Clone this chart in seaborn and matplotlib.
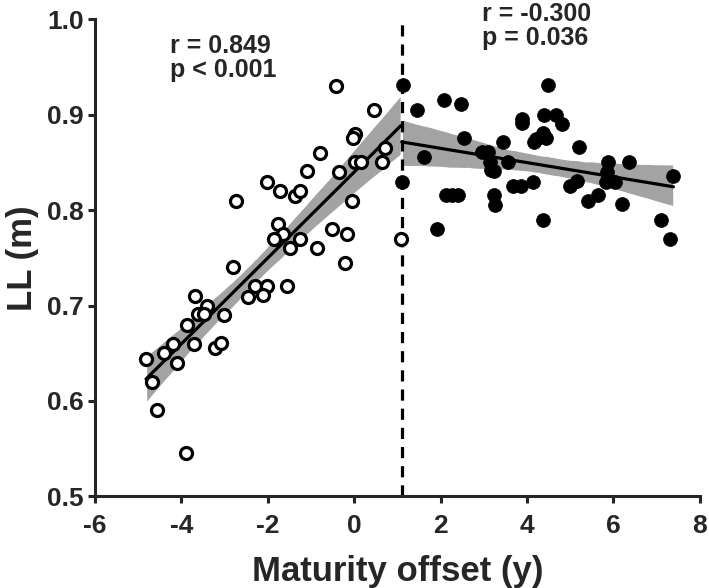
import numpy as np
import pandas as pd
import matplotlib
matplotlib.use("Agg")
import matplotlib.pyplot as plt
import seaborn as sns

# pre-PHV group (open circles)
pre_x = [-0.43, 0.46, 0.02, -0.02, 0.71, 0.65, -0.79, 0.02, 0.15, -0.36,
         -1.10, -2.03, -1.72, -1.36, -1.25, -2.74, -0.05, -1.76, -1.64, -1.85,
         -1.25, -1.49, -0.51, -0.16, -0.85, -0.21, -2.80, -2.30, -2.03, -1.55,
         -2.45, -2.10, -3.69, -3.40, -3.61, -3.48, -3.01, -3.86, -4.20, -3.71,
         -4.40, -3.22, -3.09, -4.82, -4.10, -4.67, -4.57, -3.90, 1.08]
pre_ll = [0.930, 0.905, 0.880, 0.876, 0.865, 0.850, 0.860, 0.850, 0.850, 0.840,
          0.841, 0.830, 0.820, 0.815, 0.820, 0.810, 0.810, 0.786, 0.775, 0.770,
          0.770, 0.760, 0.780, 0.775, 0.760, 0.745, 0.740, 0.720, 0.720, 0.720,
          0.709, 0.711, 0.710, 0.700, 0.691, 0.691, 0.690, 0.680, 0.660, 0.660,
          0.650, 0.655, 0.661, 0.644, 0.640, 0.620, 0.590, 0.545, 0.770]

# post-PHV group (filled circles)
post_x = [1.14, 1.46, 2.08, 2.47, 1.62, 2.55, 1.10, 2.13, 2.26, 2.41,
          1.91, 2.97, 3.10, 3.14, 3.16, 3.24, 3.24, 3.27, 3.45, 3.57,
          3.67, 3.85, 3.89, 3.89, 4.15, 4.16, 4.22, 4.38, 4.44, 4.49,
          4.39, 4.67, 4.80, 4.38, 5.20, 4.99, 5.16, 5.42, 5.65, 5.88,
          5.86, 5.88, 5.84, 6.04, 6.36, 6.21, 7.10, 7.39, 7.31]
post_ll = [0.931, 0.905, 0.916, 0.911, 0.856, 0.876, 0.830, 0.8155, 0.8155, 0.8155,
           0.780, 0.861, 0.861, 0.851, 0.842, 0.841, 0.8155, 0.805, 0.871, 0.850,
           0.825, 0.825, 0.896, 0.891, 0.830, 0.871, 0.875, 0.881, 0.876, 0.931,
           0.900, 0.900, 0.890, 0.790, 0.866, 0.825, 0.831, 0.810, 0.8155, 0.851,
           0.840, 0.833, 0.830, 0.830, 0.850, 0.806, 0.790, 0.836, 0.770]

phv_line = 1.1
pre_text = "r = 0.849\np < 0.001"
post_text = "r = -0.300\np = 0.036"

pre = pd.DataFrame({"offset": pre_x, "LL": pre_ll})
post = pd.DataFrame({"offset": post_x, "LL": post_ll})

sns.set_style("ticks")
plt.rcParams['font.family'] = ['Liberation Sans', 'DejaVu Sans']
plt.rcParams['font.weight'] = 'bold'
plt.rcParams['axes.unicode_minus'] = False

fig = plt.figure(figsize=(7.09, 5.88), dpi=100)
ax = fig.add_axes([0.134, 0.156, 0.853, 0.811])

# regression lines + 95% CI bands
for d in (pre, post):
    n_before = len(ax.collections)
    sns.regplot(data=d, x="offset", y="LL", ax=ax, scatter=False, ci=95,
                color="black", line_kws={"linewidth": 2.3})
    for c in ax.collections[n_before:]:
        c.set_facecolor("#a3a3a3")
        c.set_alpha(1)
        c.set_zorder(1)

ax.axvline(phv_line, color="black", linewidth=2.3, linestyle=(0, (3.5, 2.5)), zorder=2)

sns.scatterplot(data=pre, x="offset", y="LL", ax=ax, s=75, facecolor="white",
                edgecolor="black", linewidth=2.3, zorder=4)
sns.scatterplot(data=post, x="offset", y="LL", ax=ax, s=100, color="black",
                edgecolor="black", linewidth=0.5, zorder=4)

ax.text(-4.26, 0.985, pre_text, fontsize=18, fontweight="bold", va="top",
        ha="left", linespacing=1.0)
ax.text(2.95, 1.018, post_text, fontsize=18, fontweight="bold", va="top",
        ha="left", linespacing=1.0)

ax.set_xlim(-6, 8)
ax.set_ylim(0.5, 1.0)
ax.set_xticks(np.arange(-6, 9, 2))
ax.set_yticks(np.arange(0.5, 1.01, 0.1))
ax.set_yticklabels([f"{v:.1f}" for v in np.arange(0.5, 1.01, 0.1)])
ax.set_xlabel("Maturity offset (y)", fontsize=25, fontweight="bold", labelpad=12)
ax.set_ylabel("LL (m)", fontsize=25, fontweight="bold", labelpad=6)
ax.tick_params(labelsize=19, width=2.2, length=5)
ax.tick_params(axis="x", pad=8)
ax.tick_params(axis="y", pad=3)
for lab in ax.get_xticklabels() + ax.get_yticklabels():
    lab.set_fontweight("bold")
for s in ("left", "bottom"):
    ax.spines[s].set_linewidth(2.2)
sns.despine(ax=ax)

fig.savefig("out.png", dpi=100)
